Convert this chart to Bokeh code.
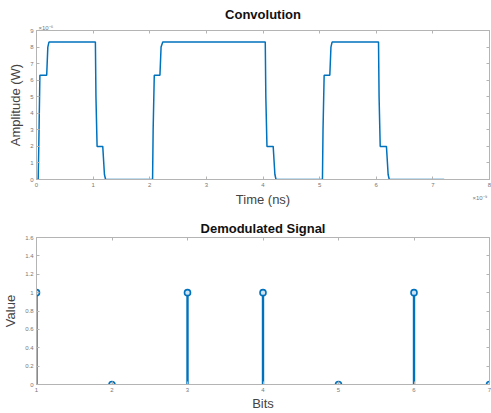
from bokeh.plotting import figure
from bokeh.layouts import column
from bokeh.models import LinearAxis, Range1d, FixedTicker, Title, ColumnDataSource
from bokeh.embed import file_html
from bokeh.resources import INLINE

# Convolution (time in 1e-9 units, amplitude in 1e-6 units)
time_ns = [0, 0.03, 0.045, 0.06, 0.18, 0.2, 0.22, 1.04, 1.05, 1.07, 1.17, 1.2, 1.22,
           2.05, 2.06, 2.08, 2.18, 2.2, 2.23, 4.04, 4.05, 4.07, 4.18, 4.21, 4.23,
           5.05, 5.06, 5.08, 5.18, 5.2, 5.22, 6.04, 6.05, 6.07, 6.18, 6.21, 6.23, 7.2]
amp_uw = [0, 0, 3, 6.3, 6.3, 8, 8.3, 8.3, 5, 2, 2, 0.3, 0,
          0, 3, 6.3, 6.3, 8, 8.3, 8.3, 5, 2, 2, 0.3, 0,
          0, 3, 6.3, 6.3, 8, 8.3, 8.3, 5, 2, 2, 0.3, 0, 0]
conv_xticks = [0, 1, 2, 3, 4, 5, 6, 7, 8]
conv_yticks = [0, 1, 2, 3, 4, 5, 6, 7, 8, 9]

# Demodulated signal
bits = [1, 2, 3, 4, 5, 6, 7]
values = [1, 0, 1, 1, 0, 1, 0]
demod_yticks = [0, 0.2, 0.4, 0.6, 0.8, 1.0, 1.2, 1.4, 1.6]
demod_ylabels = ["0", "0.2", "0.4", "0.6", "0.8", "1", "1.2", "1.4", "1.6"]

BLUE = "#0072BD"
FONT = "Liberation Sans"
TICK_COL = "#777777"
LABEL_COL = "#444444"
FRAME_COL = "#b4b4b4"


def blank_axis(ticks):
    return LinearAxis(ticker=FixedTicker(ticks=ticks),
                      major_label_overrides={t: "" for t in ticks},
                      major_label_text_font_size="6px", major_label_standoff=0,
                      major_tick_in=3, major_tick_out=0, minor_tick_line_color=None,
                      axis_line_color=FRAME_COL, major_tick_line_color=FRAME_COL)


def style_axis(ax, ticks, label, overrides=None, label_standoff=3):
    ax.ticker = FixedTicker(ticks=ticks)
    ax.axis_label = label
    if overrides:
        ax.major_label_overrides = overrides
    ax.axis_line_color = FRAME_COL
    ax.major_tick_in = 3
    ax.major_tick_out = 0
    ax.minor_tick_line_color = None
    ax.major_tick_line_color = FRAME_COL
    ax.major_label_text_font = FONT
    ax.major_label_text_font_size = "6px"
    ax.major_label_text_color = TICK_COL
    ax.major_label_standoff = 3
    ax.axis_label_text_font = FONT
    ax.axis_label_text_font_size = "13px"
    ax.axis_label_text_font_style = "normal"
    ax.axis_label_text_color = LABEL_COL
    ax.axis_label_standoff = label_standoff


def style(p, xticks, yticks, xlabel, ylabel, ylabel_over=None, title_standoff=0):
    p.xgrid.visible = False
    p.ygrid.visible = False
    p.outline_line_color = FRAME_COL
    p.outline_line_width = 1
    p.title.align = "center"
    p.title.text_font = FONT
    p.title.text_font_style = "bold"
    p.title.text_font_size = "13px"
    p.title.text_color = "#111111"
    p.title.standoff = title_standoff
    xa = p.below[0]
    ya = p.left[0]
    style_axis(xa, xticks, xlabel, label_standoff=1)
    style_axis(ya, yticks, ylabel, ylabel_over, label_standoff=4)
    p.add_layout(blank_axis(xticks), "above")
    p.add_layout(blank_axis(yticks), "right")
    return xa, ya


p1 = figure(width=491, height=212, output_backend="svg", toolbar_location=None,
            title="Convolution", x_range=Range1d(0, 8), y_range=Range1d(0, 9),
            min_border_left=36, min_border_right=2, min_border_top=30, min_border_bottom=33)
p1.line(time_ns, amp_uw, line_color=BLUE, line_width=1.5)
xa1, ya1 = style(p1, conv_xticks, conv_yticks, None, "Amplitude (W)", title_standoff=1)
# x10^-6 exponent at the top left
p1.add_layout(Title(text="×10⁻⁶", align="left", text_font=FONT, text_font_size="6px",
                    text_color=TICK_COL, text_font_style="normal", offset=2, standoff=0),
              "above")
# x10^-9 exponent at the bottom right: an extra below-axis carrying one label
exp_pos = conv_xticks[-1] - 0.17
exp_axis = LinearAxis(ticker=FixedTicker(ticks=[exp_pos]),
                      major_label_overrides={exp_pos: "×10⁻⁹"},
                      major_label_text_font=FONT, major_label_text_font_size="6px",
                      major_label_text_color=TICK_COL, major_label_standoff=5,
                      major_tick_in=0, major_tick_out=0, minor_tick_line_color=None,
                      axis_line_color=None, major_tick_line_color=None,
                      axis_label="Time (ns)", axis_label_text_font=FONT,
                      axis_label_text_font_size="13px", axis_label_text_font_style="normal",
                      axis_label_text_color=LABEL_COL, axis_label_standoff=-12)
p1.add_layout(exp_axis, "below")

src = ColumnDataSource(dict(bits=bits, values=values, zeros=[0] * len(bits)))
p2 = figure(width=491, height=201, output_backend="svg", toolbar_location=None,
            title="Demodulated Signal", x_range=Range1d(1, 7), y_range=Range1d(0, 1.6),
            min_border_left=36, min_border_right=1, min_border_top=25, min_border_bottom=27)
p2.segment(x0="bits", y0="zeros", x1="bits", y1="values", source=src,
           line_color=BLUE, line_width=2.4)
p2.scatter(x="bits", y="values", source=src, marker="circle", size=6,
           fill_color="#cfe3f2", line_color=BLUE, line_width=1.6)
style(p2, bits, demod_yticks, "Bits", "Value",
      ylabel_over={t: l for t, l in zip(demod_yticks, demod_ylabels)}, title_standoff=4)

layout = column(p1, p2, spacing=0)
open("out.html", "w").write(file_html(layout, INLINE))
